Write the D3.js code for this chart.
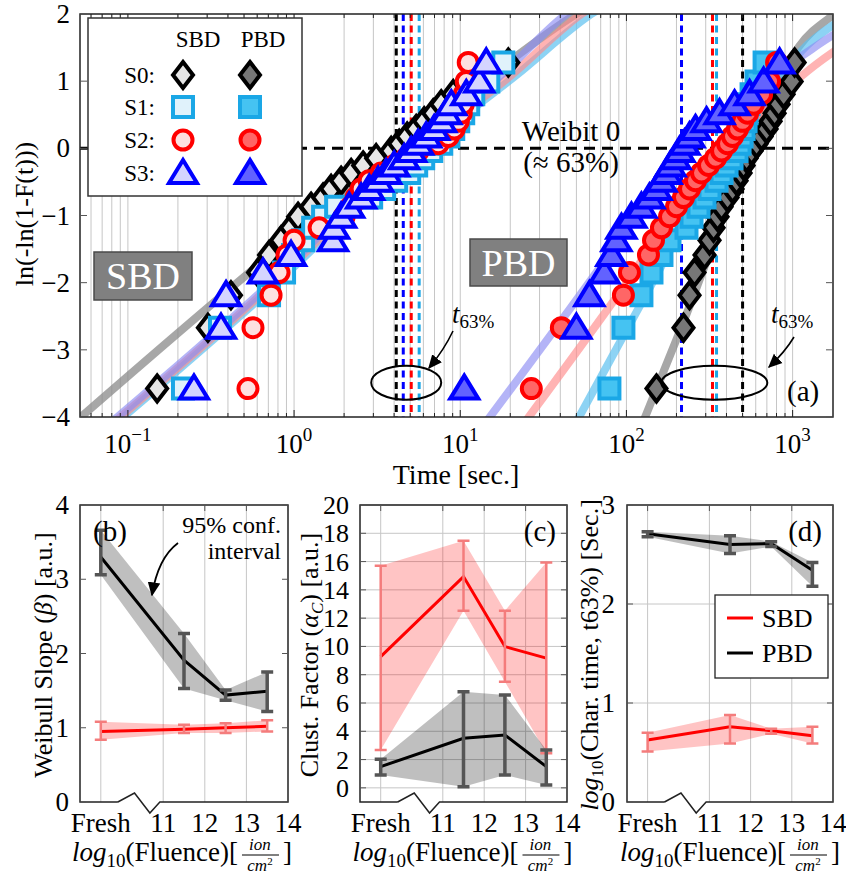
<!DOCTYPE html>
<html>
<head>
<meta charset="utf-8">
<script src="https://cdn.jsdelivr.net/npm/d3@7/dist/d3.min.js"></script>
<style>
  body { margin: 0; background: #fff; }
  svg, svg text { font-family: 'Liberation Serif', 'Times New Roman', Times, 'DejaVu Serif', serif; }
</style>
</head>
<body>
<svg id="chart" width="846" height="876"></svg>
<script>
// ---------- panel (a): Weibull plot ----------
// weibit level of each ranked failure (same for every sample)
const weibitLevels = [-3.577, -2.670, -2.186, -1.849, -1.587, -1.370, -1.183, -1.018, -0.869, -0.732,
  -0.604, -0.482, -0.367, -0.255, -0.146, -0.038, 0.069, 0.177, 0.287, 0.402,
  0.523, 0.656, 0.807, 0.995, 1.279];

// failure times [sec.]
const sbdS0 = [0.150, 0.303, 0.417, 0.607, 0.707, 0.835, 0.959, 1.057, 1.266, 1.495, 1.671, 1.919, 2.205, 2.604, 3.119, 3.840, 4.291, 4.794, 5.431, 6.069, 6.877, 7.683, 9.075, 11.65, 19.46];
const sbdS1 = [0.2145, 0.3583, 0.707, 0.8705, 0.986, 1.133, 1.302, 1.495, 1.791, 2.910, 3.485, 4.117, 4.930, 5.431, 5.985, 6.689, 7.683, 8.467, 9.075, 9.727, 10.42, 11.17, 11.98, 14.75, 18.16];
const sbdS2 = [0.528, 0.566, 0.727, 0.812, 0.907, 1.000, 1.415, 2.001, 2.205, 2.363, 2.533, 2.830, 3.343, 4.004, 4.729, 5.585, 7.370, 8.467, 9.203, 9.727, 10.14, 10.42, 10.57, 10.87, 11.17];
const sbdS3 = [0.2498, 0.3634, 0.3896, 0.6505, 0.959, 1.718, 1.742, 1.919, 2.145, 2.533, 2.830, 3.206, 3.584, 4.004, 4.599, 5.068, 5.585, 6.240, 6.973, 7.683, 8.235, 8.830, 10.87, 13.02, 14.34];
const pbdS0 = [151.6, 220.5, 239.7, 256.8, 295.1, 316.2, 334.3, 353.4, 373.6, 405.9, 435.0, 460.0, 486.2, 506.9, 528.4, 566.2, 606.9, 650.6, 697.1, 737.0, 779.1, 823.5, 882.7, 986.3, 1028];
const pbdS1 = [79.0, 95.9, 123.1, 141.5, 162.5, 181.6, 229.8, 246.4, 271.5, 295.1, 316.2, 348.5, 373.6, 400.4, 429.1, 460.0, 479.5, 492.9, 506.9, 521.2, 528.4, 543.2, 566.2, 606.9, 678.2];
const pbdS2 = [26.77, 40.59, 95.9, 104.3, 135.7, 145.5, 162.5, 181.6, 200.1, 220.5, 239.7, 260.4, 283.0, 311.9, 343.6, 373.6, 405.9, 435.0, 466.4, 499.9, 535.7, 582.3, 650.6, 726.7, 800.9];
const pbdS3 = [10.57, 49.99, 59.86, 73.72, 81.22, 87.06, 93.30, 107.2, 123.1, 137.6, 151.6, 162.5, 174.2, 184.1, 197.3, 208.6, 223.6, 239.7, 260.4, 303.4, 363.3, 447.3, 550.8, 668.9, 835.2];

// fitted curves [time, weibit]
const fitSbdS0 = [[0.0417, -4.21], [0.758, -1.544], [4.41, -0.025], [19.5, 1.285], [50.0, 2.0], [123, 2.5]];
const fitSbdS1 = [[0.0747, -4.21], [0.707, -2.11], [5.07, -0.13], [21.75, 1.09], [61.5, 2.0], [141.5, 2.5]];
const fitSbdS2 = [[0.0717, -4.21], [0.678, -2.11], [4.73, -0.13], [20.29, 1.09], [53.6, 2.0], [123, 2.5]];
const fitSbdS3 = [[0.0688, -4.21], [0.6505, -2.11], [4.41, -0.13], [17.66, 1.09], [43.5, 2.0], [93.3, 2.5]];
const fitPbdS0 = [[119.8, -4.21], [214.5, -2.66], [550.8, -0.025], [1087, 1.508], [1791, 2.0], [2991, 2.36]];
const fitPbdS1 = [[46.64, -4.21], [135.7, -2.11], [400.4, -0.025], [800.9, 0.942], [1133, 1.45], [1791, 1.85], [2991, 2.13]];
const fitPbdS2 = [[22.36, -4.21], [93.3, -2.11], [363.3, -0.025], [747.3, 0.645], [1133, 1.076], [1791, 1.45], [2991, 1.79]];
const fitPbdS3 = [[13.02, -4.21], [118.1, -0.963], [214.5, -0.025], [400.4, 0.60], [1133, 1.374], [1791, 1.70], [2991, 1.98]];

// characteristic times t63% (S0, S1, S2, S3)
const t63Sbd = [4.12, 5.66, 5.07, 4.54];
const t63Pbd = [500, 348.5, 329.6, 214.5];

const timeTicks = [0.1, 1, 10, 100, 1000];
const timeTickExp = ['\u22121', '0', '1', '2', '3'];
const weibitTicks = [-4, -3, -2, -1, 0, 1, 2];
const sampleNames = ['S0:', 'S1:', 'S2:', 'S3:'];

// ---------- panels (b)-(d) ----------
const fluencePos = [9.5, 11.5, 12.5, 13.5];
const fluenceTickPos = [9.5, 11, 12, 13, 14];
const fluenceTickLabels = ['Fresh', '11', '12', '13', '14'];

const betaSbd = [0.95, 0.98, 1.00, 1.02];
const betaSbdLo = [0.84, 0.93, 0.93, 0.95];
const betaSbdHi = [1.08, 1.04, 1.06, 1.10];
const betaPbd = [3.30, 1.91, 1.44, 1.49];
const betaPbdLo = [3.06, 1.53, 1.37, 1.22];
const betaPbdHi = [3.66, 2.27, 1.51, 1.75];

const alphaSbd = [9.28, 14.94, 9.99, 9.17];
const alphaSbdLo = [2.68, 12.53, 7.51, 2.45];
const alphaSbdHi = [15.7, 17.48, 12.53, 15.93];
const alphaPbd = [1.5, 3.51, 3.74, 1.5];
const alphaPbdLo = [0.91, 0.08, 0.91, 0.2];
const alphaPbdHi = [2.02, 6.8, 6.57, 2.68];

const charSbd = [0.626, 0.76, 0.72, 0.67];
const charSbdLo = [0.51, 0.59, 0.69, 0.59];
const charSbdHi = [0.70, 0.88, 0.74, 0.76];
const charPbd = [2.71, 2.60, 2.61, 2.34];
const charPbdLo = [2.68, 2.51, 2.58, 2.18];
const charPbdHi = [2.73, 2.69, 2.63, 2.42];

// ---------- drawing ----------
const SERIF = "'Liberation Serif', 'Times New Roman', Times, 'DejaVu Serif', serif";
const svg = d3.select('#chart').attr('font-family', SERIF);
const GRID = '#c6c6c6';

const shapes = {
  diamond: 'M0,-13L10,0L0,13L-10,0Z',
  square: 'M-10,-10H10V10H-10Z',
  circle: 'M9.5,0A9.5,9.5 0 1,1 -9.5,0A9.5,9.5 0 1,1 9.5,0Z',
  triangle: 'M0,-13L14,10H-14Z'
};
const styles = [
  {shape: 'diamond', stroke: '#000', light: '#e6e6e6', dark: '#777', fit: '#8a8a8a', fitOp: 0.75},
  {shape: 'square', stroke: '#1aa7e6', light: '#e0f2fb', dark: '#45c3f2', fit: '#5cc0ef', fitOp: 0.7},
  {shape: 'circle', stroke: '#ff0000', light: '#fde0e0', dark: '#ff6666', fit: '#ff8a8a', fitOp: 0.65},
  {shape: 'triangle', stroke: '#0000ff', light: '#d4d4ff', dark: '#6262ff', fit: '#8c8cf2', fitOp: 0.65}
];

const defs = svg.append('defs');
defs.append('marker')
  .attr('id', 'arrow')
  .attr('viewBox', '0 -5 10 10')
  .attr('refX', 9).attr('refY', 0)
  .attr('orient', 'auto')
  .attr('markerWidth', 14).attr('markerHeight', 14)
  .attr('markerUnits', 'userSpaceOnUse')
  .append('path')
  .attr('d', 'M0,-4.5L10,0L0,4.5Z')
  .attr('fill', '#000');

const A = {left: 80, right: 833, top: 14, bottom: 417};
const xA = d3.scaleLog().domain([0.0515, 1750]).range([A.left, A.right]);
const yA = d3.scaleLinear().domain([-4, 2]).range([A.bottom, A.top]);

defs.append('clipPath').attr('id', 'clipA')
  .append('rect')
  .attr('x', A.left).attr('y', A.top)
  .attr('width', A.right - A.left).attr('height', A.bottom - A.top);

const ga = svg.append('g');

// grid
ga.selectAll('.gx').data(xA.ticks())
  .join('line')
  .attr('x1', d => xA(d)).attr('x2', d => xA(d))
  .attr('y1', A.top).attr('y2', A.bottom)
  .attr('stroke', GRID).attr('stroke-width', 1);

// fitted curves
const fitLine = d3.line().x(d => xA(d[0])).y(d => yA(d[1])).curve(d3.curveMonotoneX);
const fitsA = [fitSbdS0, fitSbdS1, fitSbdS2, fitSbdS3, fitPbdS0, fitPbdS1, fitPbdS2, fitPbdS3];
const fitLayer = ga.append('g').attr('clip-path', 'url(#clipA)');
fitsA.forEach((f, i) => {
  const st = styles[i % 4];
  fitLayer.append('path')
    .attr('d', fitLine(f))
    .attr('fill', 'none')
    .attr('stroke', st.fit)
    .attr('stroke-opacity', st.fitOp)
    .attr('stroke-width', 8);
});

// t63% lines
[t63Sbd, t63Pbd].forEach(arr => {
  ga.selectAll(null).data(arr)
    .join('line')
    .attr('x1', d => xA(d)).attr('x2', d => xA(d))
    .attr('y1', A.top).attr('y2', A.bottom)
    .attr('stroke', (d, i) => styles[i].stroke)
    .attr('stroke-width', 3)
    .attr('stroke-dasharray', '7,4.5');
});

// weibit 0 line
ga.append('line')
  .attr('x1', A.left).attr('x2', A.right)
  .attr('y1', yA(0)).attr('y2', yA(0))
  .attr('stroke', '#000').attr('stroke-width', 3)
  .attr('stroke-dasharray', '11,7');

// data points
const sbdSeries = [sbdS0, sbdS1, sbdS2, sbdS3];
const pbdSeries = [pbdS0, pbdS1, pbdS2, pbdS3];
const ptLayer = ga.append('g').attr('clip-path', 'url(#clipA)');
function drawPoints(series, fillKey) {
  series.forEach((times, i) => {
    const st = styles[i];
    ptLayer.selectAll(null)
      .data(times.map((t, k) => [t, weibitLevels[k]]))
      .join('path')
      .attr('transform', d => `translate(${xA(d[0])},${yA(d[1])})`)
      .attr('d', shapes[st.shape])
      .attr('fill', st[fillKey])
      .attr('stroke', st.stroke)
      .attr('stroke-width', 4);
  });
}
drawPoints(sbdSeries, 'light');
drawPoints(pbdSeries, 'dark');

// frame and ticks
ga.append('rect')
  .attr('x', A.left).attr('y', A.top)
  .attr('width', A.right - A.left).attr('height', A.bottom - A.top)
  .attr('fill', 'none').attr('stroke', '#222').attr('stroke-width', 1.5);

ga.selectAll('.tx').data(xA.ticks())
  .join('path')
  .attr('d', d => {
    const x = xA(d), len = timeTicks.includes(d) ? 7 : 4;
    return `M${x},${A.bottom}v${-len}M${x},${A.top}v${len}`;
  })
  .attr('stroke', '#222').attr('stroke-width', 1);

ga.selectAll('.ty').data(weibitTicks)
  .join('path')
  .attr('d', d => `M${A.left},${yA(d)}h7M${A.right},${yA(d)}h-7`)
  .attr('stroke', '#555').attr('stroke-width', 1);

ga.selectAll('.tyl').data(weibitTicks)
  .join('text')
  .attr('x', 70).attr('y', d => yA(d) + 9)
  .attr('text-anchor', 'end')
  .attr('font-size', 27)
  .text(d => String(d).replace('-', '\u2212'));

ga.selectAll('.txl').data(timeTicks)
  .join('text')
  .attr('x', d => xA(d)).attr('y', 453)
  .attr('text-anchor', 'middle')
  .attr('font-size', 27)
  .each(function(d, i) {
    const t = d3.select(this);
    t.append('tspan').text('10');
    t.append('tspan').attr('font-size', 19).attr('dy', -12).text(timeTickExp[i]);
  });

ga.append('text')
  .attr('x', 456).attr('y', 484)
  .attr('text-anchor', 'middle')
  .attr('font-size', 28)
  .text('Time [sec.]');

ga.append('text')
  .attr('transform', 'translate(33,214) rotate(-90)')
  .attr('text-anchor', 'middle')
  .attr('font-size', 26)
  .text('ln(-ln(1-F(t)))');

// annotations
ga.append('text').attr('x', 571).attr('y', 141)
  .attr('text-anchor', 'middle').attr('font-size', 29).text('Weibit 0');
ga.append('text').attr('x', 571).attr('y', 172)
  .attr('text-anchor', 'middle').attr('font-size', 29).text('(\u2248 63%)');

function grayBox(x, y, w, h, label) {
  ga.append('rect').attr('x', x).attr('y', y).attr('width', w).attr('height', h)
    .attr('fill', '#808080').attr('stroke', '#4a4a4a').attr('stroke-width', 1.5);
  ga.append('text').attr('x', x + w / 2).attr('y', y + h / 2 + 13)
    .attr('text-anchor', 'middle').attr('font-size', 38).attr('fill', '#fff').text(label);
}
grayBox(94, 252, 98, 48, 'SBD');
grayBox(470, 239, 97, 47, 'PBD');

ga.append('ellipse')
  .attr('cx', xA(4.73)).attr('cy', yA(-3.49)).attr('rx', 35).attr('ry', 17)
  .attr('fill', 'none').attr('stroke', '#000').attr('stroke-width', 2);
ga.append('ellipse')
  .attr('cx', xA(338)).attr('cy', yA(-3.49)).attr('rx', 53).attr('ry', 17)
  .attr('fill', 'none').attr('stroke', '#000').attr('stroke-width', 2);

function t63Label(x, y) {
  const t = ga.append('text').attr('x', x).attr('y', y).attr('font-size', 27);
  t.append('tspan').attr('font-style', 'italic').text('t');
  t.append('tspan').attr('font-size', 19).attr('dy', 5).text('63%');
}
t63Label(452, 323);
t63Label(771, 323);
ga.append('path').attr('d', 'M453,331 Q444,350 429,368')
  .attr('fill', 'none').attr('stroke', '#000').attr('stroke-width', 1.6).attr('marker-end', 'url(#arrow)');
ga.append('path').attr('d', 'M794,337 Q785,352 769,367')
  .attr('fill', 'none').attr('stroke', '#000').attr('stroke-width', 1.6).attr('marker-end', 'url(#arrow)');

ga.append('text').attr('x', 787).attr('y', 401).attr('font-size', 29).text('(a)');

// legend
const lg = ga.append('g');
lg.append('rect').attr('x', 88).attr('y', 18).attr('width', 214).attr('height', 178)
  .attr('fill', '#fff').attr('stroke', '#333').attr('stroke-width', 1.5);
lg.append('text').attr('x', 198).attr('y', 47).attr('text-anchor', 'middle').attr('font-size', 23).text('SBD');
lg.append('text').attr('x', 263).attr('y', 47).attr('text-anchor', 'middle').attr('font-size', 23).text('PBD');
const rowY = [75, 107, 140, 173];
sampleNames.forEach((name, i) => {
  const st = styles[i];
  lg.append('text').attr('x', 155).attr('y', rowY[i] + 8)
    .attr('text-anchor', 'end').attr('font-size', 23).text(name);
  [[183, st.light], [250, st.dark]].forEach(([x, fill]) => {
    lg.append('path')
      .attr('transform', `translate(${x},${rowY[i]})`)
      .attr('d', shapes[st.shape])
      .attr('fill', fill).attr('stroke', st.stroke).attr('stroke-width', 4);
  });
});

// ---------- small panels ----------
const TOP = 505, BOT = 802;

function fluenceLabel(cx) {
  const g = svg.append('g');
  const t = g.append('text').attr('y', 861).attr('font-size', 27);
  t.append('tspan').attr('font-style', 'italic').text('log');
  t.append('tspan').attr('font-size', 19).attr('dy', 6).text('10');
  t.append('tspan').attr('dy', -6).text('(Fluence)[');
  const w = t.node().getComputedTextLength();
  g.append('text').attr('x', w + 22).attr('y', 850)
    .attr('text-anchor', 'middle').attr('font-size', 17).attr('font-style', 'italic').text('ion');
  g.append('line').attr('x1', w + 4).attr('x2', w + 41).attr('y1', 855).attr('y2', 855)
    .attr('stroke', '#000').attr('stroke-width', 1);
  const den = g.append('text').attr('x', w + 22).attr('y', 871)
    .attr('text-anchor', 'middle').attr('font-size', 17);
  den.append('tspan').attr('font-style', 'italic').text('cm');
  den.append('tspan').attr('font-size', 11).attr('dy', -6).text('2');
  g.append('text').attr('x', w + 45).attr('y', 861).attr('font-size', 27).text(']');
  const total = w + 54;
  g.attr('transform', `translate(${cx - total / 2},0)`);
}

function smallPanel(p) {
  const x = d3.scaleLinear().domain([9, 14]).range([p.left, p.right]);
  const y = d3.scaleLinear().domain(p.yDomain).range([BOT, TOP]);
  const g = svg.append('g');

  // grid
  g.selectAll(null).data(fluenceTickPos.slice(0, 4))
    .join('line')
    .attr('x1', d => x(d)).attr('x2', d => x(d)).attr('y1', TOP).attr('y2', BOT)
    .attr('stroke', GRID);
  g.selectAll(null).data(p.hGrid)
    .join('line')
    .attr('x1', p.left).attr('x2', p.right).attr('y1', d => y(d)).attr('y2', d => y(d))
    .attr('stroke', GRID);

  const area = (lo, hi) => d3.area()
    .x((d, i) => x(fluencePos[i]))
    .y0((d, i) => y(lo[i]))
    .y1((d, i) => y(hi[i]))(lo);
  const line = d3.line().x((d, i) => x(fluencePos[i])).y(d => y(d));

  g.append('path').attr('d', area(p.sbdLo, p.sbdHi)).attr('fill', '#ff0000').attr('fill-opacity', 0.23);
  g.append('path').attr('d', area(p.pbdLo, p.pbdHi)).attr('fill', '#000').attr('fill-opacity', 0.25);
  g.append('path').attr('d', line(p.sbd)).attr('fill', 'none').attr('stroke', '#ff0000').attr('stroke-width', 3);
  g.append('path').attr('d', line(p.pbd)).attr('fill', 'none').attr('stroke', '#000').attr('stroke-width', 3);

  function errorBars(lo, hi, color, width) {
    g.selectAll(null).data(lo)
      .join('path')
      .attr('d', (d, i) => {
        const cx = x(fluencePos[i]), y0 = y(lo[i]), y1 = y(hi[i]);
        return `M${cx},${y0}V${y1}M${cx - 6},${y0}h12M${cx - 6},${y1}h12`;
      })
      .attr('fill', 'none').attr('stroke', color).attr('stroke-width', width);
  }
  errorBars(p.sbdLo, p.sbdHi, '#f47c7c', 2.5);
  errorBars(p.pbdLo, p.pbdHi, '#555', 3.5);

  // frame with broken bottom axis
  g.append('path')
    .attr('d', `M${x(9.91)},${BOT}H${p.left}V${TOP}H${p.right}V${BOT}H${x(10.92)}` +
      `L${x(10.68)},${BOT + 11}L${x(10.31)},${BOT - 9}L${x(9.91)},${BOT}`)
    .attr('fill', 'none').attr('stroke', '#222').attr('stroke-width', 1.5);

  // ticks
  g.selectAll(null).data(p.yTicks)
    .join('path')
    .attr('d', d => `M${p.left},${y(d)}h6M${p.right},${y(d)}h-6`)
    .attr('stroke', '#555');
  g.selectAll(null).data(fluenceTickPos)
    .join('path')
    .attr('d', d => `M${x(d)},${TOP}v6`)
    .attr('stroke', '#555');

  g.selectAll(null).data(p.yTicks)
    .join('text')
    .attr('x', p.labelX).attr('y', d => y(d) + 9)
    .attr('text-anchor', 'end').attr('font-size', p.tickFont)
    .text(d => d);
  g.selectAll(null).data(fluenceTickLabels)
    .join('text')
    .attr('x', (d, i) => x(fluenceTickPos[i])).attr('y', 832)
    .attr('text-anchor', 'middle').attr('font-size', 27)
    .text(d => d);

  const yl = g.append('text')
    .attr('transform', `translate(${p.titleX},655) rotate(-90)`)
    .attr('text-anchor', 'middle').attr('font-size', 26);
  p.title(yl);

  g.append('text').attr('x', p.tagX).attr('y', 541)
    .attr('text-anchor', p.tagAnchor).attr('font-size', 29).text(p.tag);

  fluenceLabel((p.left + p.right) / 2 + p.labelShift);
  return {g, x, y};
}

const pb = smallPanel({
  left: 80, right: 288, yDomain: [0, 4], yTicks: [0, 1, 2, 3, 4], hGrid: [],
  sbd: betaSbd, sbdLo: betaSbdLo, sbdHi: betaSbdHi,
  pbd: betaPbd, pbdLo: betaPbdLo, pbdHi: betaPbdHi,
  labelX: 69, tickFont: 27, titleX: 52, tag: '(b)', tagX: 93, tagAnchor: 'start', labelShift: -2,
  title: t => {
    t.append('tspan').text('Weibull Slope (');
    t.append('tspan').attr('font-style', 'italic').text('\u03b2');
    t.append('tspan').text(') [a.u.]');
  }
});
pb.g.append('text').attr('x', 281).attr('y', 533).attr('text-anchor', 'end').attr('font-size', 24).text('95% conf.');
pb.g.append('text').attr('x', 281).attr('y', 559).attr('text-anchor', 'end').attr('font-size', 24).text('interval');
pb.g.append('path').attr('d', 'M178,543 Q158,558 152,595')
  .attr('fill', 'none').attr('stroke', '#000').attr('stroke-width', 1.8).attr('marker-end', 'url(#arrow)');

smallPanel({
  left: 360, right: 567, yDomain: [-1, 20], yTicks: d3.range(0, 21, 2), hGrid: d3.range(0, 21, 2),
  sbd: alphaSbd, sbdLo: alphaSbdLo, sbdHi: alphaSbdHi,
  pbd: alphaPbd, pbdLo: alphaPbdLo, pbdHi: alphaPbdHi,
  labelX: 349, tickFont: 26, titleX: 318, tag: '(c)', tagX: 556, tagAnchor: 'end', labelShift: -1,
  title: t => {
    t.append('tspan').text('Clust. Factor (');
    t.append('tspan').attr('font-style', 'italic').text('\u03b1');
    t.append('tspan').attr('font-style', 'italic').attr('font-size', 17).attr('dy', 5).text('C');
    t.append('tspan').attr('dy', -5).text(') [a.u.]');
  }
});

const pd = smallPanel({
  left: 627, right: 833, yDomain: [0, 3], yTicks: [0, 1, 2, 3], hGrid: [1, 2],
  sbd: charSbd, sbdLo: charSbdLo, sbdHi: charSbdHi,
  pbd: charPbd, pbdLo: charPbdLo, pbdHi: charPbdHi,
  labelX: 615, tickFont: 27, titleX: 598, tag: '(d)', tagX: 822, tagAnchor: 'end', labelShift: 0,
  title: t => {
    t.append('tspan').attr('font-style', 'italic').text('log');
    t.append('tspan').attr('font-size', 17).attr('dy', 5).text('10');
    t.append('tspan').attr('dy', -5).text('(Char. time, t63%) [Sec.]');
  }
});
const dl = pd.g.append('g');
dl.append('rect').attr('x', 715).attr('y', 595).attr('width', 113).attr('height', 83)
  .attr('fill', '#fff').attr('stroke', '#222').attr('stroke-width', 1.3);
[['SBD', '#ff0000', 618], ['PBD', '#000', 653]].forEach(([name, c, yy]) => {
  dl.append('line').attr('x1', 727).attr('x2', 753).attr('y1', yy).attr('y2', yy)
    .attr('stroke', c).attr('stroke-width', 3);
  dl.append('text').attr('x', 762).attr('y', yy + 9).attr('font-size', 26).text(name);
});
</script>
</body>
</html>
